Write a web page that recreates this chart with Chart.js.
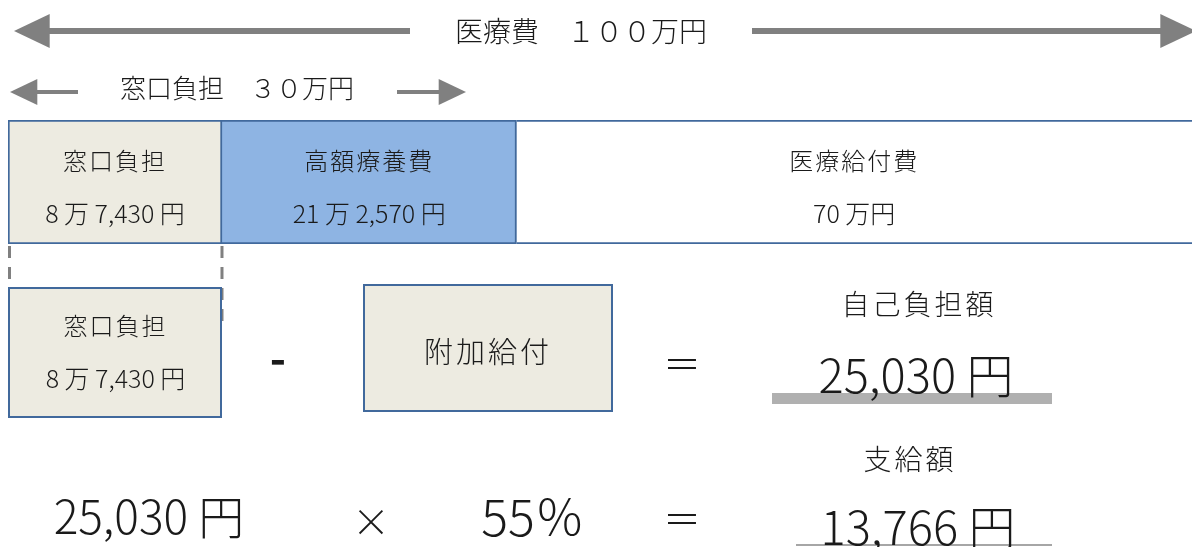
<!DOCTYPE html>
<html lang="ja">
<head>
<meta charset="utf-8">
<title>医療費の内訳と附加給付</title>
<script src="https://cdn.jsdelivr.net/npm/chart.js@4.4.1/dist/chart.umd.min.js"></script>
<style>
  html, body {
    margin: 0;
    padding: 0;
    background: #ffffff;
  }
  body {
    position: relative;
    width: 1192px;
    height: 547px;
    overflow: hidden;
    font-family: "Noto Sans CJK JP", "Noto Sans", sans-serif;
    font-weight: 300;
    color: #1a1a1a;
  }
  #barBox {
    position: absolute;
    left: 0;
    top: 120px;
    width: 1192px;
    height: 124px;
  }
  #marks {
    position: absolute;
    left: 0;
    top: 0;
  }
  .txt {
    position: absolute;
    white-space: nowrap;
    line-height: 1;
    transform: translate(-50%, -50%);
  }
  .box {
    position: absolute;
    box-sizing: border-box;
    background: #edebe1;
    border: 2px solid #41699c;
  }
</style>
</head>
<body>
<div id="barBox"><canvas id="costChart"></canvas></div>
<svg id="marks" width="1192" height="547"></svg>

<script>
// breakdown of the 1,000,000 yen medical bill (yen)
const segmentNames = ['窓口負担', '高額療養費', '医療給付費'];
const segmentAmounts = [87430, 212570, 700000];

// extra benefit calculation
const benefitName = '附加給付';
const selfPayLabel = '自己負担額';
const selfPayAmount = 25030;
const benefitRate = 55;
const payoutLabel = '支給額';
const payoutAmount = 13766;

// the original diagram is schematic, not to scale: a power scale keeps the small parts readable
const SCALE_EXP = 0.702;

class PowerScale extends Chart.LinearScale {
    static id = 'power';
    static defaults = Chart.LinearScale.defaults;

    getPixelForValue(value) {
        const r = Math.max(value - this.min, 0) / (this.max - this.min);
        return this.getPixelForDecimal(Math.pow(r, SCALE_EXP));
    }

    getValueForPixel(pixel) {
        const d = Math.max(this.getDecimalForPixel(pixel), 0);
        return this.min + Math.pow(d, 1 / SCALE_EXP) * (this.max - this.min);
    }
}
Chart.register(PowerScale);

const fills = ['#edebe1', '#8eb4e3', '#ffffff'];
const borders = [
    { top: 2, bottom: 2, left: 2, right: 2 },
    { top: 2, bottom: 2, left: 0, right: 2 },
    { top: 2, bottom: 2, left: 0, right: 0 }
];

const total = segmentAmounts.reduce((a, b) => a + b, 0);

function toWide(str) {
    return String(str).replace(/[0-9]/g, d => String.fromCharCode(d.charCodeAt(0) + 0xFEE0));
}

function formatMan(v) {
    const man = Math.floor(v / 10000);
    const rest = v % 10000;
    return rest ? `${man} 万 ${rest.toLocaleString('en-US')} 円` : `${man} 万円`;
}

function formatYen(v) {
    return `${v.toLocaleString('en-US')} 円`;
}

function addText(text, x, y, size, extra) {
    const el = document.createElement('div');
    el.className = 'txt';
    el.textContent = text;
    el.style.left = x + 'px';
    el.style.top = y + 'px';
    el.style.fontSize = size + 'px';
    if (extra) Object.assign(el.style, extra);
    document.body.appendChild(el);
    return el;
}

function addBox(x, y, w, h) {
    const el = document.createElement('div');
    el.className = 'box';
    el.style.left = x + 'px';
    el.style.top = y + 'px';
    el.style.width = w + 'px';
    el.style.height = h + 'px';
    document.body.appendChild(el);
    return el;
}

const svg = document.getElementById('marks');
function svgEl(tag, attrs) {
    const el = document.createElementNS('http://www.w3.org/2000/svg', tag);
    for (const k in attrs) el.setAttribute(k, attrs[k]);
    svg.appendChild(el);
    return el;
}

function arrow(x1, x2, y, tipX, head, width) {
    // line from x1 to x2, head pointing to tipX
    svgEl('line', { x1, y1: y, x2, y2: y, stroke: '#808080', 'stroke-width': width });
    const baseX = tipX < x1 ? tipX + head * 1.05 : tipX - head * 1.05;
    svgEl('polygon', {
        points: `${tipX},${y} ${baseX},${y - head / 2} ${baseX},${y + head / 2}`,
        fill: '#808080'
    });
}

const chart = new Chart(document.getElementById('costChart'), {
    type: 'bar',
    data: {
        labels: ['医療費'],
        datasets: segmentNames.map((name, i) => ({
            label: name,
            data: [segmentAmounts[i]],
            backgroundColor: fills[i],
            borderColor: '#41699c',
            borderWidth: borders[i],
            borderSkipped: false,
            barPercentage: 1,
            categoryPercentage: 1
        }))
    },
    options: {
        indexAxis: 'y',
        responsive: true,
        maintainAspectRatio: false,
        animation: false,
        layout: { padding: { left: 8, right: 0, top: 0, bottom: 0 } },
        plugins: {
            legend: { display: false },
            tooltip: { enabled: false }
        },
        scales: {
            x: { type: 'power', stacked: true, min: 0, max: total, display: false },
            y: { stacked: true, display: false }
        }
    }
});

// labels inside the bar, placed from the bar elements
const barTop = 120;
const segEdges = segmentNames.map((_, i) => {
    const el = chart.getDatasetMeta(i).data[0];
    return { start: Math.min(el.base, el.x), end: Math.max(el.base, el.x) };
});
segEdges.forEach((e, i) => {
    const cx = (e.start + e.end) / 2;
    addText(segmentNames[i], cx, barTop + 40, 24, { letterSpacing: '2px' });
    addText(formatMan(segmentAmounts[i]), cx, barTop + 92, 25);
});

// headline arrows
addText(`医療費　${toWide(total / 10000)}万円`, 581, 30, 28);
arrow(48, 410, 31, 14, 34, 6);
arrow(752, 1162, 31, 1196, 34, 6);

const windowTotal = segmentAmounts[0] + segmentAmounts[1];
addText(`窓口負担　${toWide(windowTotal / 10000)}万円`, 237, 87, 26);
arrow(36, 78, 92, 10, 26, 4);
arrow(397, 441, 92, 466, 26, 4);

// copy of the window charge, linked with dashed guides
const first = segEdges[0];
const boxW = first.end - first.start + 1;
svgEl('line', { x1: first.start + 1.5, y1: 246, x2: first.start + 1.5, y2: 287,
    stroke: '#808080', 'stroke-width': 3, 'stroke-dasharray': '12 9' });
svgEl('line', { x1: first.end, y1: 246, x2: first.end, y2: 328,
    stroke: '#808080', 'stroke-width': 3, 'stroke-dasharray': '12 9' });
addBox(first.start, 287, boxW - 1, 131);
const box1Cx = first.start + boxW / 2;
addText(segmentNames[0], box1Cx, 325, 24, { letterSpacing: '2px' });
addText(formatMan(segmentAmounts[0]), box1Cx, 377, 25);

addText('-', 278, 356, 44, { fontWeight: 'bold' });

addBox(363, 284, 250, 128);
addText(benefitName, 488, 350, 29, { letterSpacing: '3px' });

addText('＝', 682, 362, 38);
addText(selfPayLabel, 919, 303, 28, { letterSpacing: '3px' });
addText(formatYen(selfPayAmount), 916, 372, 47);
svgEl('rect', { x: 772, y: 393, width: 280, height: 11, fill: '#b0b0b0' });

// payout row
addText(formatYen(selfPayAmount), 149, 514, 46);
addText('×', 371, 520, 38);
addText(`${benefitRate}％`, 533, 514, 50);
addText('＝', 682, 517, 38);
addText(payoutLabel, 910, 458, 28, { letterSpacing: '3px' });
addText(formatYen(payoutAmount), 918, 524, 47);
svgEl('rect', { x: 796, y: 544, width: 256, height: 2, fill: '#a6a6a6' });
</script>
</body>
</html>
